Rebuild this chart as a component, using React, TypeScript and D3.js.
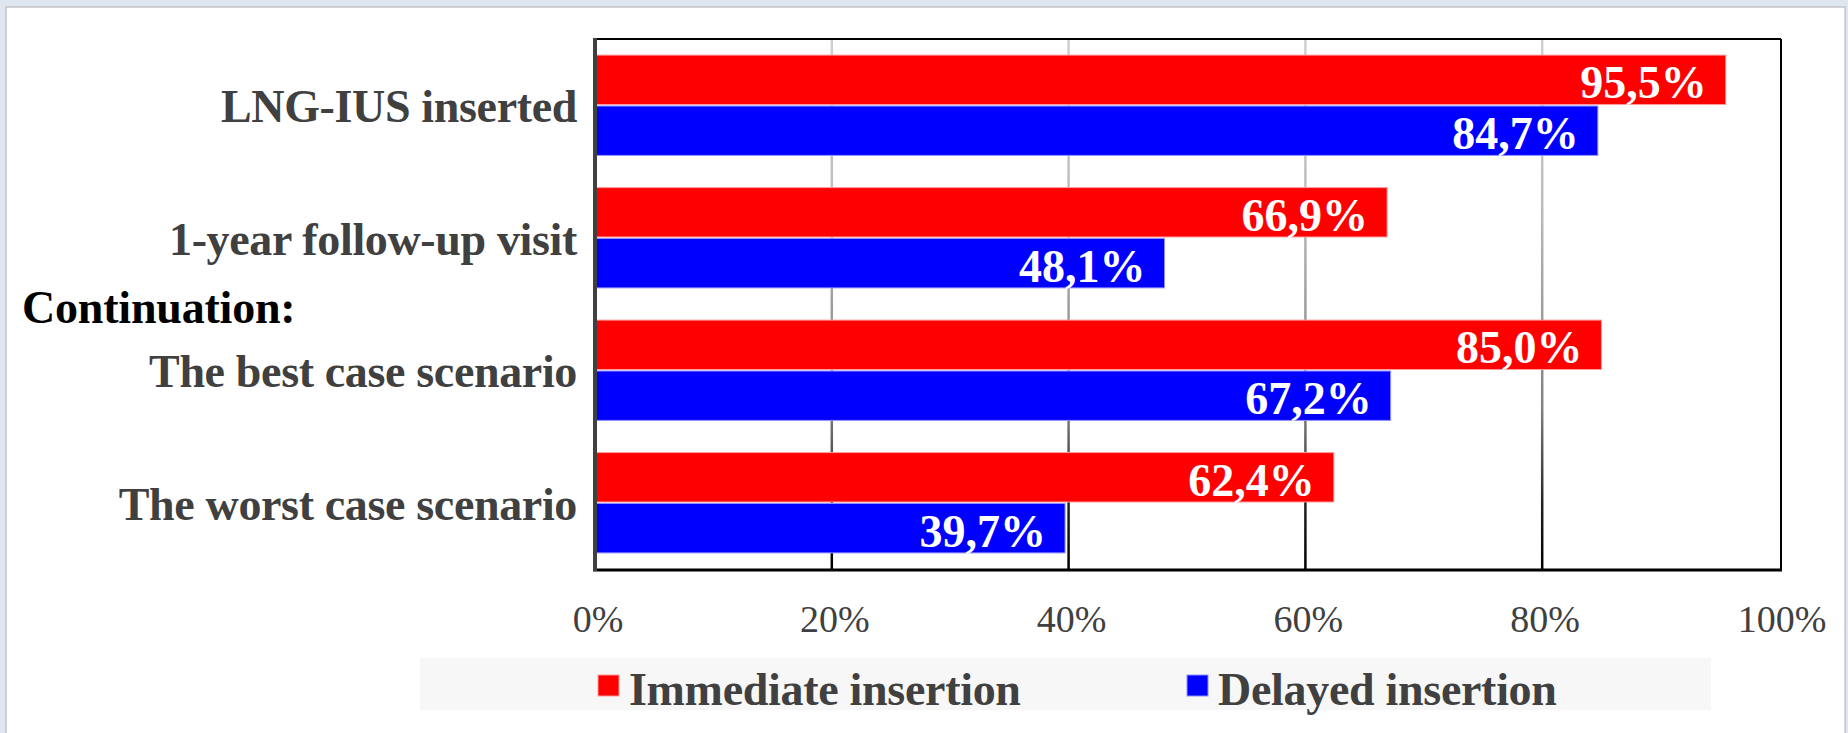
import React, { useEffect, useRef } from 'react';
import * as d3 from 'd3';

const categories = [
  'LNG-IUS inserted',
  '1-year follow-up visit',
  'The best case scenario',
  'The worst case scenario',
];
const seriesNames = ['Immediate insertion', 'Delayed insertion'];
const seriesColors = ['#ff0000', '#0000ff'];
const seriesStrokes = ['#ff9a9a', '#9090ff'];
const immediate = [95.5, 66.9, 85.0, 62.4];
const delayed = [84.7, 48.1, 67.2, 39.7];
const xTicks = [0, 20, 40, 60, 80, 100];

const W = 1848;
const H = 733;
const FONT = "'Liberation Serif', 'Times New Roman', serif";

const App = () => {
  const svgRef = useRef<SVGSVGElement>(null);

  useEffect(() => {
    const svg = d3.select(svgRef.current);
    svg.selectAll('*').remove();

    const left = 595;
    const right = 1779;
    const top = 39;
    const bottom = 569;

    // frame around the picture
    svg.append('rect').attr('width', W).attr('height', H).attr('fill', '#dfe6f0');
    svg.append('rect')
      .attr('x', 6).attr('y', 7).attr('width', 1839).attr('height', H)
      .attr('fill', '#ffffff').attr('stroke', '#c4c4c4').attr('stroke-width', 1.5);

    const x = d3.scaleLinear().domain([0, 100]).range([left, right]);
    const y = d3.scaleBand().domain(categories).range([top, bottom])
      .paddingInner(0.22).paddingOuter(0.11);
    const ySub = d3.scaleBand().domain(seriesNames).range([0, y.bandwidth()]).padding(0.03);

    // gridlines fade from light gray to black
    const defs = svg.append('defs');
    const grad = defs.append('linearGradient')
      .attr('id', 'gridGrad').attr('gradientUnits', 'userSpaceOnUse')
      .attr('x1', 0).attr('x2', 0).attr('y1', top).attr('y2', bottom);
    [[0, '#d0d0d0'], [0.3, '#bdbdbd'], [0.7, '#808080'], [0.88, '#202020'], [1, '#000000']]
      .forEach(([o, c]) => grad.append('stop').attr('offset', o as number).attr('stop-color', c as string));

    svg.append('g').selectAll('line')
      .data(xTicks.slice(1, -1))
      .enter().append('line')
      .attr('x1', d => x(d)).attr('x2', d => x(d))
      .attr('y1', top).attr('y2', bottom)
      .attr('stroke', 'url(#gridGrad)').attr('stroke-width', 2.5);

    const rows = categories.map((c, i) => [
      { cat: c, s: 0, v: immediate[i] },
      { cat: c, s: 1, v: delayed[i] },
    ]).flat();

    const fmt = (v: number) => d3.format('.1f')(v).replace('.', ',') + '%';

    svg.append('g').selectAll('rect')
      .data(rows)
      .enter().append('rect')
      .attr('x', left)
      .attr('y', d => (y(d.cat) as number) + (ySub(seriesNames[d.s]) as number))
      .attr('width', d => x(d.v) - left)
      .attr('height', ySub.bandwidth())
      .attr('fill', d => seriesColors[d.s])
      .attr('stroke', d => seriesStrokes[d.s])
      .attr('stroke-width', 1);

    svg.append('g').selectAll('text')
      .data(rows)
      .enter().append('text')
      .attr('x', d => x(d.v) - 19)
      .attr('y', d => (y(d.cat) as number) + (ySub(seriesNames[d.s]) as number) + ySub.bandwidth() - 6)
      .attr('text-anchor', 'end')
      .attr('font-family', FONT).attr('font-weight', 'bold').attr('font-size', 46)
      .attr('fill', '#ffffff')
      .text(d => fmt(d.v));

    // plot border
    svg.append('line').attr('x1', left).attr('x2', right + 2).attr('y1', top).attr('y2', top)
      .attr('stroke', '#000').attr('stroke-width', 2);
    svg.append('line').attr('x1', right + 2).attr('x2', right + 2).attr('y1', top).attr('y2', bottom)
      .attr('stroke', '#000').attr('stroke-width', 2);
    svg.append('line').attr('x1', left - 2).attr('x2', right + 3).attr('y1', bottom + 1).attr('y2', bottom + 1)
      .attr('stroke', '#000').attr('stroke-width', 3);
    svg.append('line').attr('x1', left).attr('x2', left).attr('y1', top - 1).attr('y2', bottom + 2)
      .attr('stroke', '#404040').attr('stroke-width', 4);

    // category labels
    svg.append('g').selectAll('text')
      .data(categories)
      .enter().append('text')
      .attr('x', left - 18)
      .attr('y', d => (y(d) as number) + y.bandwidth() / 2 + 17)
      .attr('text-anchor', 'end')
      .attr('font-family', FONT).attr('font-weight', 'bold').attr('font-size', 46)
      .attr('letter-spacing', -0.35)
      .attr('fill', '#404040')
      .text(d => d);

    svg.append('text')
      .attr('x', 22).attr('y', 323)
      .attr('font-family', FONT).attr('font-weight', 'bold').attr('font-size', 46)
      .attr('letter-spacing', -0.2)
      .attr('fill', '#000')
      .text('Continuation:');

    // x tick labels
    svg.append('g').selectAll('text')
      .data(xTicks)
      .enter().append('text')
      .attr('x', d => x(d) + 3)
      .attr('y', 632)
      .attr('text-anchor', 'middle')
      .attr('font-family', FONT).attr('font-size', 38)
      .attr('fill', '#404040')
      .text(d => d + '%');

    // legend
    svg.append('rect')
      .attr('x', 420).attr('y', 658).attr('width', 1291).attr('height', 52)
      .attr('fill', '#f7f7f7');
    const legendX = [598, 1187];
    const lg = svg.append('g').selectAll('g')
      .data(seriesNames)
      .enter().append('g')
      .attr('transform', (d, i) => `translate(${legendX[i]}, 675)`);
    lg.append('rect')
      .attr('width', 21).attr('height', 21)
      .attr('fill', (d, i) => seriesColors[i])
      .attr('stroke', (d, i) => seriesStrokes[i]).attr('stroke-width', 1);
    lg.append('text')
      .attr('x', 31).attr('y', 30)
      .attr('font-family', FONT).attr('font-weight', 'bold').attr('font-size', 46)
      .attr('letter-spacing', -0.3)
      .attr('fill', '#404040')
      .text(d => d);
  }, []);

  return (
    <svg
      ref={svgRef}
      width={W}
      height={H}
      style={{ position: 'absolute', left: 0, top: 0, display: 'block' }}
    />
  );
};

export default App;
